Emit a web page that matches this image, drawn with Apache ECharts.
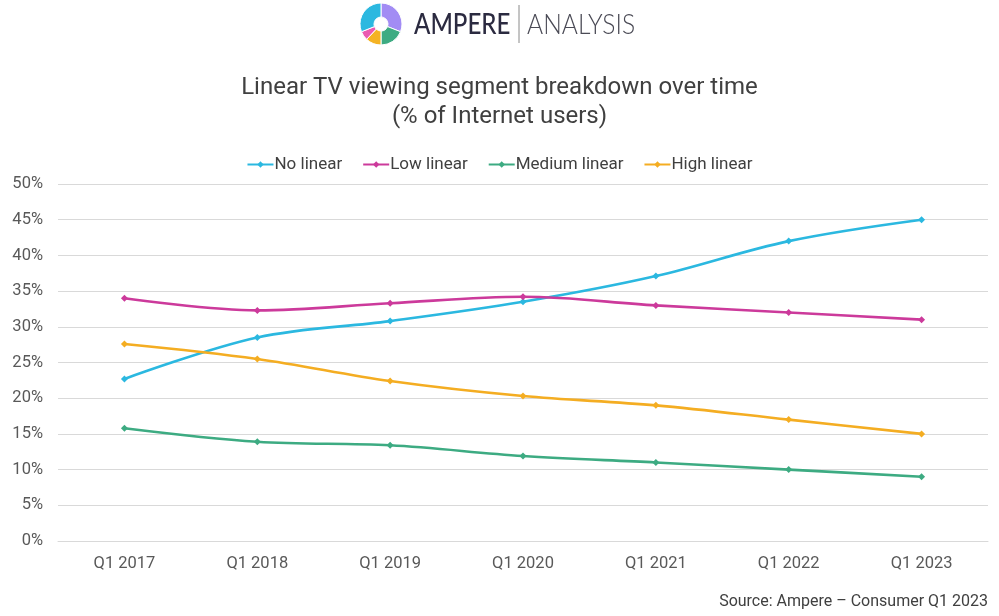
<!DOCTYPE html>
<html>
<head>
    <meta charset="utf-8"/>
    <title>Linear TV viewing segment breakdown</title>
    <script src="https://cdn.jsdelivr.net/npm/echarts@6/dist/echarts.min.js"></script>
    <style>
        html, body { margin: 0; padding: 0; background: #fff; }
        #main { width: 999px; height: 616px; }
    </style>
</head>
<body>
<div id="main"></div>
<script>
    // 数据
    var quarters = ['Q1 2017', 'Q1 2018', 'Q1 2019', 'Q1 2020', 'Q1 2021', 'Q1 2022', 'Q1 2023'];
    var noLinear = [22.7, 28.5, 30.8, 33.5, 37.1, 42.0, 45.0];
    var lowLinear = [34.0, 32.3, 33.3, 34.2, 33.0, 32.0, 31.0];
    var mediumLinear = [15.8, 13.9, 13.4, 11.9, 11.0, 10.0, 9.0];
    var highLinear = [27.6, 25.5, 22.4, 20.3, 19.0, 17.0, 15.0];
    var seriesNames = ['No linear', 'Low linear', 'Medium linear', 'High linear'];
    var seriesColors = ['#2bb8e0', '#cc3a9b', '#3dab82', '#f4ad22'];
    // logo 色块
    var logoShares = [31, 19, 12, 7, 31];
    var logoColors = ['#a28cf4', '#3dab82', '#f4b324', '#ea5bb1', '#2bb8e0'];

    var chart = echarts.init(document.getElementById('main'));
    var font = 'Roboto';

    function lineSeries(name, data, color) {
        return {
            name: name,
            type: 'line',
            data: data,
            smooth: 0.35,
            symbol: 'diamond',
            symbolSize: 7,
            lineStyle: { color: color, width: 2.6 },
            itemStyle: { color: color },
            emphasis: { disabled: true }
        };
    }

    var option = {
        backgroundColor: '#fff',
        animation: false,
        textStyle: { fontFamily: font },
        title: {
            text: 'Linear TV viewing segment breakdown over time\n(% of Internet users)',
            left: 'center',
            top: 68,
            textStyle: { fontFamily: font, fontSize: 24, fontWeight: 'normal', color: '#404040', lineHeight: 29 }
        },
        legend: {
            top: 151,
            left: 'center',
            itemWidth: 26,
            itemHeight: 8,
            itemGap: 20,
            textStyle: { fontFamily: font, fontSize: 17, color: '#404040', padding: [0, 0, 0, -4] },
            data: seriesNames
        },
        grid: { left: 58, right: 11, top: 184, bottom: 75 },
        xAxis: {
            type: 'category',
            data: quarters,
            boundaryGap: true,
            axisLine: { lineStyle: { color: '#d9d9d9' } },
            axisTick: { show: false },
            axisLabel: { fontFamily: font, fontSize: 16.5, color: '#595959', margin: 14 }
        },
        yAxis: {
            type: 'value',
            min: 0,
            max: 50,
            interval: 5,
            axisLine: { show: false },
            axisTick: { show: false },
            axisLabel: { fontFamily: font, fontSize: 16.5, color: '#595959', margin: 15, formatter: '{value}%' },
            splitLine: { lineStyle: { color: '#d9d9d9', width: 1 } }
        },
        series: [
            lineSeries(seriesNames[0], noLinear, seriesColors[0]),
            lineSeries(seriesNames[1], lowLinear, seriesColors[1]),
            lineSeries(seriesNames[2], mediumLinear, seriesColors[2]),
            lineSeries(seriesNames[3], highLinear, seriesColors[3]),
            {
                // logo 圆环
                type: 'pie',
                center: [381, 24],
                radius: [7, 21],
                startAngle: 90,
                clockwise: true,
                silent: true,
                label: { show: false },
                labelLine: { show: false },
                itemStyle: { borderColor: '#fff', borderWidth: 1 },
                data: logoShares.map(function (v, i) {
                    return { value: v, itemStyle: { color: logoColors[i] } };
                })
            }
        ],
        graphic: [
            {
                type: 'text',
                x: 414,
                y: 25,
                scaleX: 0.86,
                style: { text: 'AMPERE', font: '500 28px Lato', fill: '#2b2a40', verticalAlign: 'middle' }
            },
            {
                type: 'line',
                shape: { x1: 519, y1: 5, x2: 519, y2: 43 },
                style: { stroke: '#8a8a8a', lineWidth: 1 }
            },
            {
                type: 'text',
                x: 527,
                y: 25,
                scaleX: 0.88,
                style: { text: 'ANALYSIS', font: '300 28px Lato', fill: '#4a4a55', verticalAlign: 'middle' }
            },
            {
                type: 'text',
                right: 11,
                top: 594,
                style: { text: 'Source: Ampere \u2013 Consumer Q1 2023', font: '16px Roboto', fill: '#404040' }
            }
        ]
    };
    chart.setOption(option);

    window.onresize = function () {
        chart.resize();
    };
</script>
</body>
</html>
